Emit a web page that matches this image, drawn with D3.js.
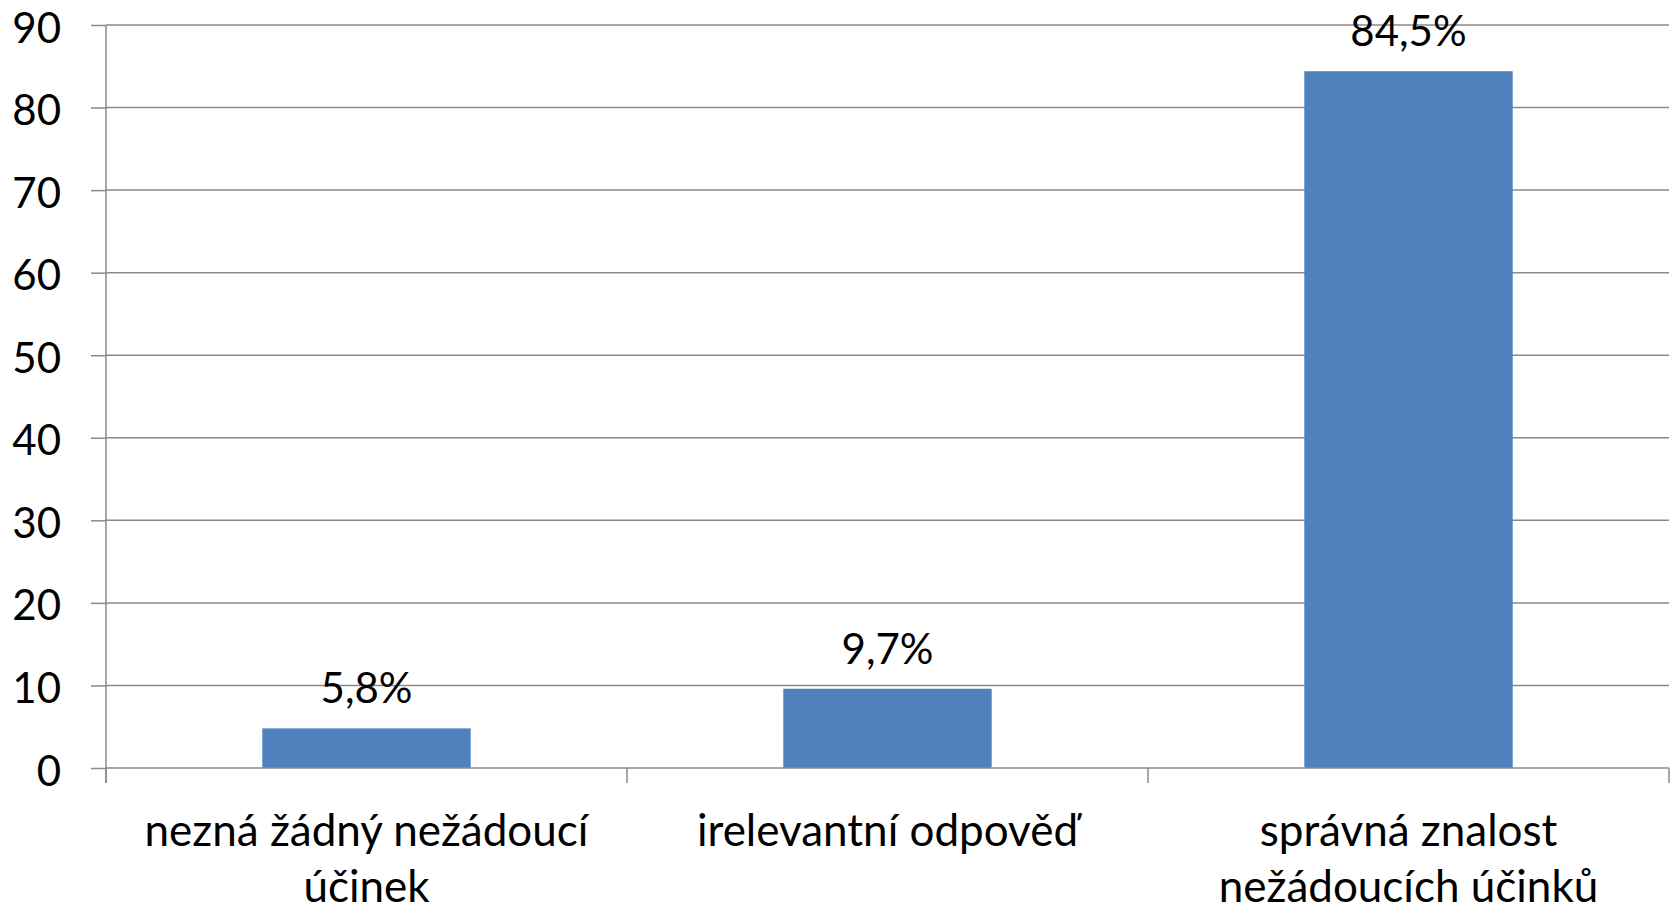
<!DOCTYPE html>
<html>
<head>
<meta charset="utf-8">
<script src="https://cdn.jsdelivr.net/npm/d3@7"></script>
<style>
    body { margin: 0; background: #fff; }
    text { font-family: Lato, "Open Sans", sans-serif; fill: #000; }
</style>
</head>
<body>
<div id="chart"></div>
<script>
    // categories split into the two lines shown under the axis
    const categories = ["nezná žádný nežádoucí účinek", "irelevantní odpověď", "správná znalost nežádoucích účinků"];
    const categoryLines = [["nezná žádný nežádoucí", "účinek"], ["irelevantní odpověď"], ["správná znalost", "nežádoucích účinků"]];
    const values = [4.8, 9.6, 84.4];
    const valueLabels = ["5,8%", "9,7%", "84,5%"];
    const yTicks = [0, 10, 20, 30, 40, 50, 60, 70, 80, 90];

    const W = 1675, H = 908;
    const plot = { left: 106, right: 1669, top: 25, bottom: 768 };
    const fontSize = 42;
    const gridColor = "#8a8a8a";

    const svg = d3.select("#chart")
        .append("svg")
        .attr("width", W)
        .attr("height", H);

    const x = d3.scaleBand()
        .domain(categories)
        .range([plot.left, plot.right])
        .padding(0);

    const y = d3.scaleLinear()
        .domain([0, 90])
        .range([plot.bottom, plot.top]);

    // horizontal gridlines (behind bars)
    svg.append("g")
        .selectAll("line")
        .data(yTicks.filter(d => d !== 0))
        .enter()
        .append("line")
        .attr("x1", plot.left)
        .attr("x2", plot.right)
        .attr("y1", d => y(d))
        .attr("y2", d => y(d))
        .attr("stroke", gridColor)
        .attr("stroke-width", 1.5);

    // bars
    const barW = x.bandwidth() * 0.4;
    svg.append("g")
        .selectAll("rect")
        .data(values)
        .enter()
        .append("rect")
        .attr("x", (d, i) => x(categories[i]) + (x.bandwidth() - barW) / 2)
        .attr("y", d => y(d))
        .attr("width", barW)
        .attr("height", d => y(0) - y(d))
        .attr("fill", "#4F81BD");

    // value labels
    svg.append("g")
        .selectAll("text")
        .data(values)
        .enter()
        .append("text")
        .attr("x", (d, i) => x(categories[i]) + x.bandwidth() / 2)
        .attr("y", d => y(d) - 25)
        .attr("text-anchor", "middle")
        .style("font-size", fontSize + "px")
        .text((d, i) => valueLabels[i]);

    // y axis
    const yAxis = d3.axisLeft(y)
        .tickValues(yTicks)
        .tickSize(15)
        .tickPadding(30);

    const yg = svg.append("g")
        .attr("transform", `translate(${plot.left},0)`)
        .call(yAxis);
    yg.select(".domain").remove();
    yg.selectAll(".tick line")
        .attr("stroke", gridColor)
        .attr("stroke-width", 1.5);
    yg.selectAll(".tick text")
        .attr("dy", null)
        .attr("y", 17)
        .style("font-size", fontSize + "px")
        .style("font-family", "Lato, 'Open Sans', sans-serif")
        .attr("fill", "#000");

    svg.append("line")
        .attr("x1", plot.left)
        .attr("x2", plot.left)
        .attr("y1", plot.top)
        .attr("y2", plot.bottom + 15)
        .attr("stroke", gridColor)
        .attr("stroke-width", 1.5);

    // x axis line and category separators
    svg.append("line")
        .attr("x1", plot.left)
        .attr("x2", plot.right)
        .attr("y1", y(0))
        .attr("y2", y(0))
        .attr("stroke", gridColor)
        .attr("stroke-width", 1.5);

    const bounds = categories.map(c => x(c)).concat([plot.right]);
    svg.append("g")
        .selectAll("line")
        .data(bounds)
        .enter()
        .append("line")
        .attr("x1", d => d)
        .attr("x2", d => d)
        .attr("y1", y(0))
        .attr("y2", y(0) + 15)
        .attr("stroke", gridColor)
        .attr("stroke-width", 1.5);

    // category labels
    const catLabels = svg.append("g")
        .selectAll("text")
        .data(categoryLines)
        .enter()
        .append("text")
        .attr("text-anchor", "middle")
        .style("font-size", "44px");

    catLabels.each(function (lines, i) {
        const cx = x(categories[i]) + x.bandwidth() / 2;
        d3.select(this).selectAll("tspan")
            .data(lines)
            .enter()
            .append("tspan")
            .attr("x", cx)
            .attr("y", (d, j) => 846 + j * 56)
            .text(d => d);
    });
</script>
</body>
</html>
